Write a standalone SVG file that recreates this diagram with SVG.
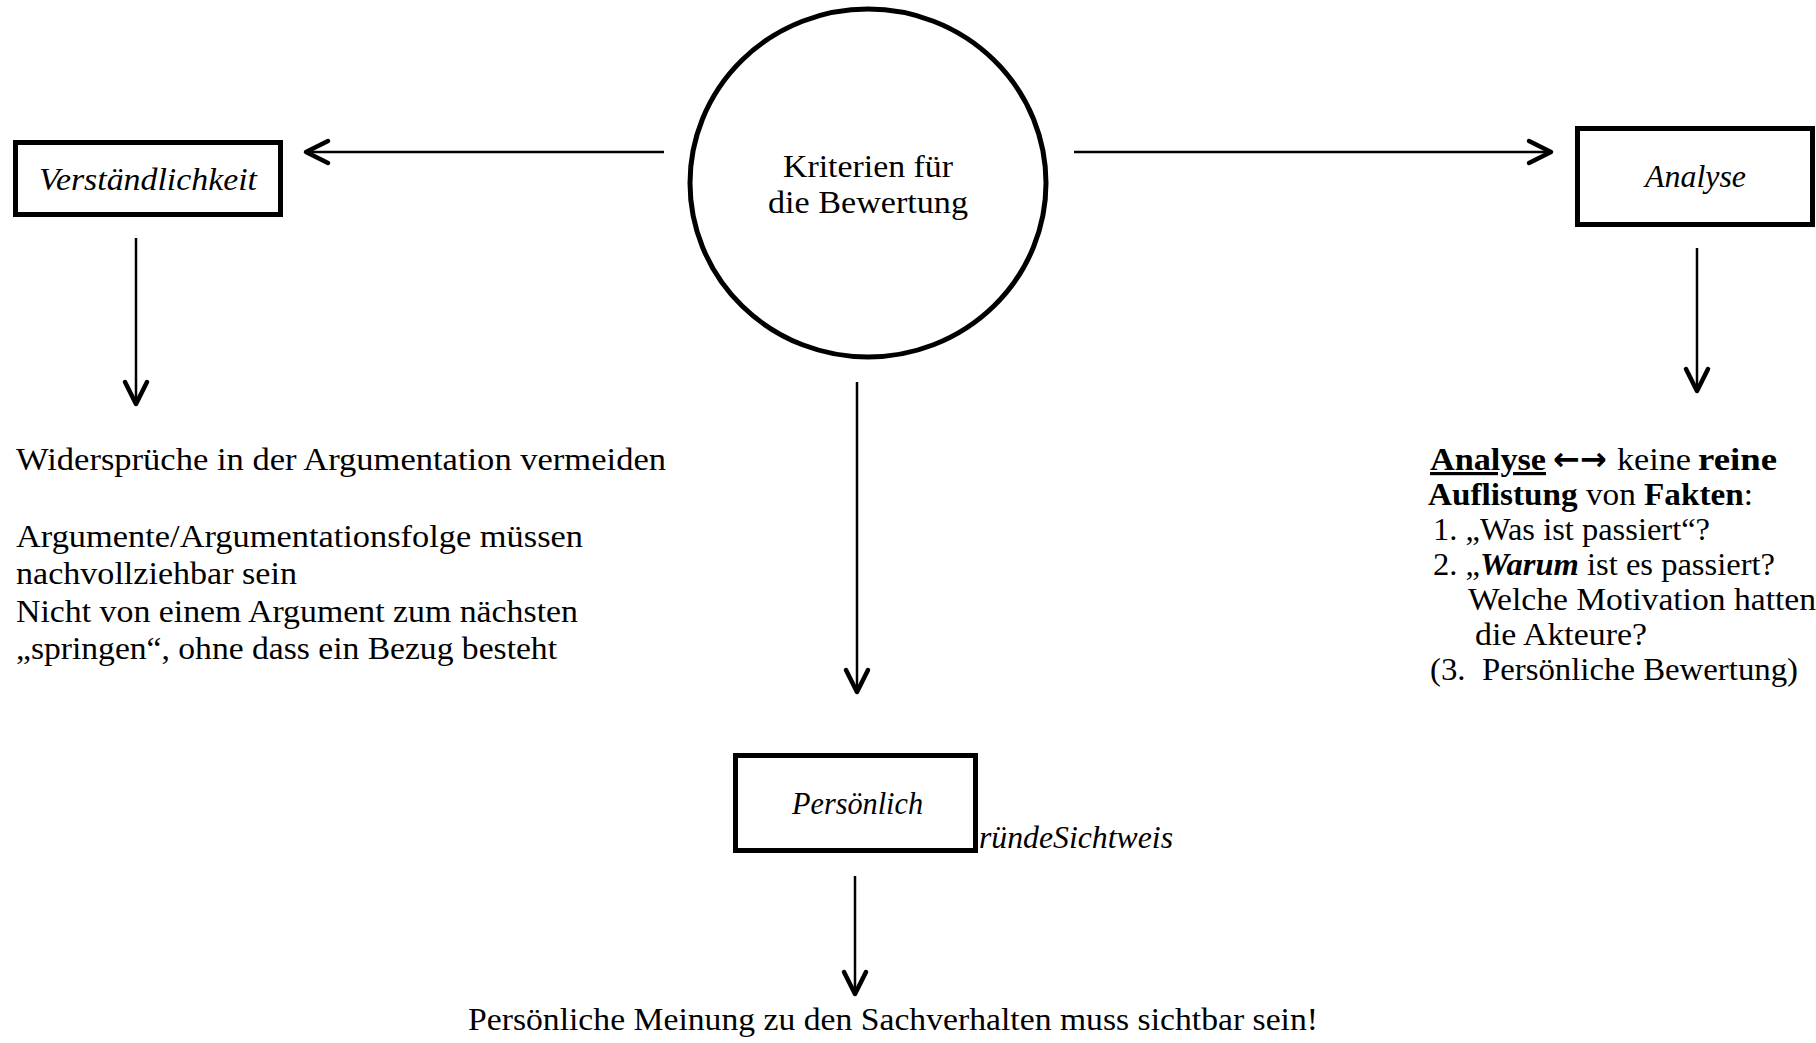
<svg xmlns="http://www.w3.org/2000/svg" width="1816" height="1043" viewBox="0 0 1816 1043">
<style>
text{font-family:"Liberation Serif","DejaVu Serif",serif;font-size:32px;fill:#000}
.it{font-style:italic}
.b{font-weight:bold}
.box{fill:#fff;stroke:#000;stroke-width:5}
.ring{fill:#fff;stroke:#000;stroke-width:5}
.conn{stroke:#000;stroke-width:2.5;fill:none;marker-end:url(#head)}
.sym{font-family:"DejaVu Sans",sans-serif;font-weight:bold;font-size:32px}
</style>
<defs>
<marker id="head" markerUnits="userSpaceOnUse" viewBox="-28 -16 34 32" refX="0" refY="0" markerWidth="34" markerHeight="32" orient="auto" overflow="visible">
<path d="M-22,-11 L0,0 L-22,11" fill="none" stroke="#000" stroke-width="4.5" stroke-linecap="round" stroke-linejoin="round"/>
</marker>
</defs>
<rect width="1816" height="1043" fill="#fff"/>

<g id="connectors">
<line class="conn" x1="664" y1="152" x2="306" y2="152"/>
<line class="conn" x1="1074" y1="152" x2="1551" y2="152"/>
<line class="conn" x1="857" y1="382" x2="857" y2="692"/>
<line class="conn" x1="136" y1="238" x2="136" y2="404"/>
<line class="conn" x1="1697" y1="248" x2="1697" y2="391"/>
<line class="conn" x1="855" y1="876" x2="855" y2="994"/>
</g>

<g id="node-kriterien">
<ellipse class="ring" cx="868" cy="183" rx="178" ry="174"/>
<text x="783" y="177" textLength="170" lengthAdjust="spacingAndGlyphs">Kriterien für</text>
<text x="768" y="213" textLength="200" lengthAdjust="spacingAndGlyphs">die Bewertung</text>
</g>

<g id="node-verstaendlichkeit">
<rect class="box" x="15.5" y="142.5" width="265" height="72"/>
<text class="it" x="39" y="190" textLength="218" lengthAdjust="spacingAndGlyphs">Verständlichkeit</text>
</g>

<g id="node-analyse">
<rect class="box" x="1577.5" y="128.5" width="235" height="96"/>
<text class="it" x="1645" y="187" textLength="101" lengthAdjust="spacingAndGlyphs">Analyse</text>
</g>

<g id="label-gruende">
<text class="it" x="979" y="848" textLength="194" lengthAdjust="spacingAndGlyphs">ründeSichtweis</text>
</g>

<g id="node-persoenlich">
<rect class="box" x="735.5" y="755.5" width="240" height="95"/>
<text class="it" x="792" y="814" textLength="131" lengthAdjust="spacingAndGlyphs">Persönlich</text>
</g>

<g id="text-verstaendlichkeit">
<text x="16" y="470" textLength="650" lengthAdjust="spacingAndGlyphs">Widersprüche in der Argumentation vermeiden</text>
<text x="16" y="547" textLength="567" lengthAdjust="spacingAndGlyphs">Argumente/Argumentationsfolge müssen</text>
<text x="16" y="584" textLength="281" lengthAdjust="spacingAndGlyphs">nachvollziehbar sein</text>
<text x="16" y="622" textLength="562" lengthAdjust="spacingAndGlyphs">Nicht von einem Argument zum nächsten</text>
<text x="16" y="659" textLength="541" lengthAdjust="spacingAndGlyphs">„springen“, ohne dass ein Bezug besteht</text>
</g>

<g id="text-analyse">
<text y="470"><tspan class="b" x="1430" textLength="116" lengthAdjust="spacingAndGlyphs" text-decoration="underline">Analyse</tspan><tspan class="sym" x="1553">←</tspan><tspan class="sym" x="1580">→</tspan><tspan x="1617" textLength="74" lengthAdjust="spacingAndGlyphs">keine</tspan><tspan class="b" x="1698" textLength="79" lengthAdjust="spacingAndGlyphs">reine</tspan></text>
<text x="1428" y="505" textLength="325" lengthAdjust="spacingAndGlyphs"><tspan class="b">Auflistung</tspan> von <tspan class="b">Fakten</tspan>:</text>
<text x="1433" y="540" textLength="277" lengthAdjust="spacingAndGlyphs">1. „Was ist passiert“?</text>
<text x="1433" y="575" textLength="342" lengthAdjust="spacingAndGlyphs">2. „<tspan class="b it">Warum</tspan> ist es passiert?</text>
<text x="1468" y="610" textLength="348" lengthAdjust="spacingAndGlyphs">Welche Motivation hatten</text>
<text x="1475" y="645" textLength="172" lengthAdjust="spacingAndGlyphs">die Akteure?</text>
<text x="1430" y="680" textLength="368" lengthAdjust="spacingAndGlyphs" xml:space="preserve">(3.  Persönliche Bewertung)</text>
</g>

<g id="text-persoenlich">
<text x="468" y="1030" textLength="850" lengthAdjust="spacingAndGlyphs">Persönliche Meinung zu den Sachverhalten muss sichtbar sein!</text>
</g>
</svg>
